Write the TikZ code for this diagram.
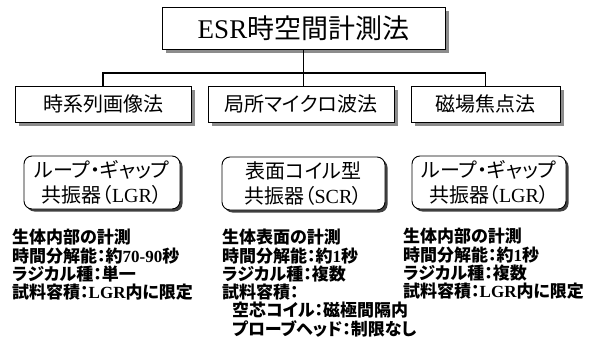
\documentclass[tikz,border=0pt]{standalone}
\usepackage{fontspec}
\setmainfont{Liberation Serif}
\newfontfamily\jp[RawFeature=+palt]{Noto Sans CJK JP}
\usetikzlibrary{shadows}
\tikzset{
  sqbox/.style={draw=black, line width=0.9pt, fill=white, inner sep=0pt,
    drop shadow={shadow xshift=4pt, shadow yshift=-4pt, fill=black!45, opacity=1}},
  rbox/.style={draw=black, line width=0.9pt, fill=white, rounded corners=8pt, inner sep=0pt,
    align=center, font=\fontsize{20}{25}\selectfont,
    drop shadow={shadow xshift=2.5pt, shadow yshift=-2.5pt, fill=black!75, opacity=1}},
  conn/.style={line width=1.4pt, black},
  info/.style={anchor=north west, align=left, inner sep=0pt,
    font=\fontsize{17}{18.3}\selectfont\bfseries},
}
\begin{document}
\begin{tikzpicture}[x=1pt,y=-1pt]
\useasboundingbox (0,0) rectangle (592,353);
\node[sqbox, minimum width=283pt, minimum height=42pt, font=\fontsize{27}{30}\selectfont] (top) at (303.5,28) {ESR{\jp 時空間計測法}};
\node[sqbox, minimum width=176pt, minimum height=36pt, font=\fontsize{20}{24}\selectfont] (m1) at (103,104) {\jp 時系列画像法};
\node[sqbox, minimum width=186pt, minimum height=36pt, font=\fontsize{20}{24}\selectfont] (m2) at (301,104) {\jp 局所マイクロ波法};
\node[sqbox, minimum width=149pt, minimum height=36pt, font=\fontsize{20}{24}\selectfont] (m3) at (485.5,104) {\jp 磁場焦点法};
\coordinate (bar) at (302,73);
\draw[conn] (m1.north) |- (bar) -| (m3.north);
\draw[conn] (top.south) -- (top.south |- m2.north);
\node[rbox, minimum width=156pt, minimum height=53pt] (r1) at (102,182.5) {{\jp ループ・ギャップ}\\{\jp 共振器（}LGR{\jp ）}};
\node[rbox, minimum width=163pt, minimum height=53pt] (r2) at (303.5,183.5) {{\jp 表面コイル型}\\{\jp 共振器（}SCR{\jp ）}};
\node[rbox, minimum width=154pt, minimum height=53pt] (r3) at (489,182.5) {{\jp ループ・ギャップ}\\{\jp 共振器（}LGR{\jp ）}};
\node[info] (t1) at (12,229) {{\jp 生体内部の計測}\\{\jp 時間分解能：約}70-90{\jp 秒}\\{\jp ラジカル種：単一}\\{\jp 試料容積：}LGR{\jp 内に限定}};
\node[info] (t2) at (222,229) {{\jp 生体表面の計測}\\{\jp 時間分解能：約}1{\jp 秒}\\{\jp ラジカル種：複数}\\{\jp 試料容積：}\\\hspace*{10pt}{\jp 空芯コイル：磁極間隔内}\\\hspace*{10pt}{\jp プローブヘッド：制限なし}};
\node[info] (t3) at (403,228) {{\jp 生体内部の計測}\\{\jp 時間分解能：約}1{\jp 秒}\\{\jp ラジカル種：複数}\\{\jp 試料容積：}LGR{\jp 内に限定}};
\end{tikzpicture}
\end{document}
